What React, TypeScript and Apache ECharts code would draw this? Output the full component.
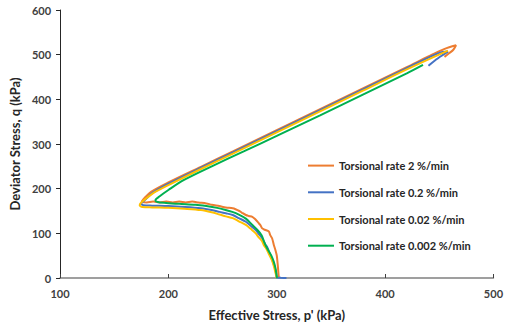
import React, { useEffect, useRef } from "react";
import * as echarts from "echarts";

const seriesNames = [
  "Torsional rate 2 %/min",
  "Torsional rate 0.2 %/min",
  "Torsional rate 0.02 %/min",
  "Torsional rate 0.002 %/min",
];
const seriesColors = ["#ED7D31", "#4472C4", "#FFC000", "#00B050"];

const xTicks = [100, 200, 300, 400, 500];
const yTicks = [0, 100, 200, 300, 400, 500, 600];

// [p' (kPa), q (kPa)]
const rate2: number[][] = [
  [302, 0], [301.5, 12], [301.2, 22], [300.5, 40], [300, 51], [298.5, 65], [297.3, 74],
  [295.7, 89], [294, 96], [292.7, 104], [289, 108], [286.6, 111], [285, 118], [283.6, 122],
  [280, 132], [277.5, 137], [274, 139], [271.5, 141], [268, 146], [265.5, 150], [262, 154],
  [259.4, 156], [253, 158], [247, 161], [240, 164], [235, 167], [228, 169], [222, 171],
  [216, 169], [210, 171], [204, 169], [198, 171], [192, 169], [186, 171], [180, 169],
  [175.5, 171], [178, 179], [184, 193], [200, 214], [230, 249], [260, 284], [300, 331],
  [340, 378], [380, 425], [420, 472], [440, 496], [455, 513], [465.5, 521], [463, 511],
  [459, 503], [454.8, 495],
];
const rate02: number[][] = [
  [309, 0], [304, 0.5], [300, 1], [299.5, 10], [298, 25], [296, 40], [293.5, 55], [291, 70],
  [289.7, 74], [286.6, 89], [283, 100], [280.6, 107.5], [276, 117], [271.5, 126], [265, 134],
  [259.4, 141], [253, 145], [247.3, 148], [240, 152], [230, 156], [215, 159], [200, 161],
  [185, 162], [177, 163], [175, 166], [179, 176], [185, 190], [200, 211], [230, 247],
  [260, 282], [300, 329], [340, 376], [380, 423], [420, 470], [450, 504], [458, 507],
  [453, 499], [446, 487], [440, 475],
];
const rate002: number[][] = [
  [300, 0], [299, 10], [297.5, 25], [295.5, 40], [292.5, 55], [290, 67], [288, 74],
  [286.6, 82], [283, 92], [280.6, 100], [276, 110], [271.5, 119], [265, 127], [259.4, 134],
  [253, 138], [247.3, 142], [240, 147], [230, 152], [215, 155], [200, 157], [185, 158],
  [176, 159], [173.5, 163], [175, 169], [180, 179], [186, 190], [200, 208], [230, 244],
  [260, 279], [300, 326], [340, 373], [380, 420], [420, 467], [458, 509],
];
const rate0002: number[][] = [
  [300.3, 0], [299.8, 7], [299, 20], [297.3, 36], [295, 50], [291.2, 66], [288.5, 80],
  [286, 96], [282, 108], [277, 120], [271.5, 133], [265, 142], [259, 148], [252, 153],
  [245, 157], [235, 161], [225, 164], [210, 166], [198, 168], [190, 170], [188, 174],
  [192, 183], [200, 197], [214, 219], [240, 250], [270, 284], [300, 318], [340, 364],
  [380, 411], [420, 458], [435, 477],
];

const allData = [rate2, rate02, rate002, rate0002];

const FONT = "Lato, 'Open Sans', sans-serif";

export default function App() {
  const ref = useRef<HTMLDivElement>(null);
  useEffect(() => {
    if (!ref.current) return;
    const chart = echarts.init(ref.current, undefined, { renderer: "svg" });
    chart.setOption({
      animation: false,
      backgroundColor: "#ffffff",
      grid: { left: 58, right: 9, top: 10, bottom: 49 },
      legend: {
        orient: "vertical",
        left: 302,
        top: 155,
        itemWidth: 26,
        itemHeight: 14,
        itemGap: 15.5,
        data: seriesNames,
        itemStyle: { opacity: 0 },
        lineStyle: { width: 2 },
        textStyle: { fontFamily: FONT, fontSize: 11, fontWeight: "bold", color: "#262626" },
      },
      xAxis: {
        type: "value",
        min: xTicks[0],
        max: xTicks[xTicks.length - 1],
        interval: 100,
        name: "Effective Stress, p' (kPa)",
        nameLocation: "middle",
        nameGap: 30,
        nameTextStyle: { fontFamily: FONT, fontSize: 13, fontWeight: "bold", color: "#262626" },
        axisLine: { show: true, lineStyle: { color: "#808080", width: 1.5 } },
        axisTick: { show: true, inside: true, length: 4, lineStyle: { color: "#404040" } },
        axisLabel: { fontFamily: FONT, fontSize: 11, fontWeight: "bold", color: "#404040", margin: 10 },
        splitLine: { show: false },
      },
      yAxis: {
        type: "value",
        min: yTicks[0],
        max: yTicks[yTicks.length - 1],
        interval: 100,
        name: "Deviator Stress, q (kPa)",
        nameLocation: "middle",
        nameGap: 35,
        nameTextStyle: { fontFamily: FONT, fontSize: 13, fontWeight: "bold", color: "#262626" },
        axisLine: { show: true, lineStyle: { color: "#262626", width: 1 } },
        axisTick: { show: true, inside: false, length: 4, lineStyle: { color: "#262626" } },
        axisLabel: { fontFamily: FONT, fontSize: 11, fontWeight: "bold", color: "#404040", margin: 9 },
        splitLine: { show: false },
      },
      series: allData.map((d, i) => ({
        name: seriesNames[i],
        type: "line",
        data: d,
        symbol: "none",
        smooth: 0.3,
        color: seriesColors[i],
        lineStyle: { width: 2, color: seriesColors[i] },
        z: 2 + i,
      })),
    });
    return () => chart.dispose();
  }, []);
  return (
    <div
      ref={ref}
      style={{ position: "absolute", left: 0, top: 0, width: 506, height: 327 }}
    />
  );
}
